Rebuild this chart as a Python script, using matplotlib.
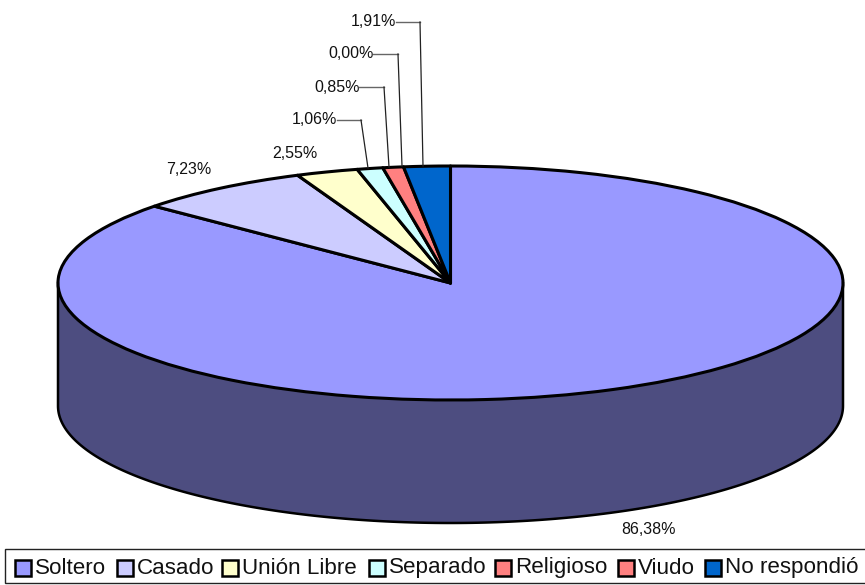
import numpy as np
import matplotlib
matplotlib.use("Agg")
import matplotlib.pyplot as plt
from matplotlib.patches import Wedge, Polygon, Rectangle
from matplotlib.transforms import Affine2D

plt.rcParams['font.family'] = ['Liberation Sans', 'DejaVu Sans']

categories = ["Soltero", "Casado", "Unión Libre", "Separado", "Religioso", "Viudo", "No respondió"]
values = [86.38, 7.23, 2.55, 1.06, 0.85, 0.00, 1.91]
value_labels = ["86,38%", "7,23%", "2,55%", "1,06%", "0,85%", "0,00%", "1,91%"]
colors = ["#9999FF", "#CCCCFF", "#FFFFCC", "#CCFFFF", "#FF8080", "#FF8080", "#0066CC"]
side_color = "#4D4D80"

CX, CY, A, B, DEPTH = 450.5, 283, 392.5, 117, 123

fig = plt.figure(figsize=(8.65, 5.85), dpi=100, facecolor="white")
ax = fig.add_axes([0, 0, 1, 1])
ax.set_xlim(0, 865)
ax.set_ylim(585, 0)
ax.axis("off")

# side wall
t = np.linspace(0, np.pi, 200)
xs = CX + A * np.cos(t)
ys = CY + DEPTH + B * np.sin(t)
wall = np.column_stack([np.r_[CX + A, xs, CX - A], np.r_[CY, ys, CY]])
ax.add_patch(Polygon(wall, closed=True, fc=side_color, ec="black", lw=1.8, zorder=1))

# top face: y axis points down, so angles run clockwise on screen
ell = Affine2D().scale(A, B).translate(CX, CY) + ax.transData
total = sum(values)
start = -90.0
for v, c in zip(values, colors):
    sweep = 360 * v / total
    if v > 0:
        ax.add_patch(Wedge((0, 0), 1, start, start + sweep, fc=c, ec="black",
                           lw=2.2, transform=ell, zorder=2, joinstyle="round"))
    start += sweep

# labels
fs = 11.5
ax.text(648, 529, value_labels[0], ha="center", va="center", fontsize=fs, color="#111111")
ax.text(189, 169, value_labels[1], ha="center", va="center", fontsize=fs, color="#111111")
ax.text(295, 153, value_labels[2], ha="center", va="center", fontsize=fs, color="#111111")

leaders = {3: [(337, 120), (361, 120), (368, 168)],
           4: [(359, 87), (384, 87), (389, 167)],
           5: [(373, 54), (398, 54), (402, 166)],
           6: [(396, 22), (420, 22), (423, 166)]}
for i, p in leaders.items():
    ax.plot([p[0][0], p[1][0]], [p[0][1], p[1][1]], color="#666666", lw=1.0, zorder=3)
    ax.plot([p[1][0], p[2][0]], [p[1][1], p[2][1]], color="#222222", lw=0.9, zorder=3)
    ax.text(p[0][0] + 0.5, p[0][1], value_labels[i], ha="right", va="center", fontsize=fs, color="#111111")

# legend
ax.add_patch(Rectangle((4.5, 548.5), 870, 34, fc="white", ec="#222222", lw=1.0, zorder=4))
squares = [15, 117, 222, 369, 495, 618, 705]
for c, name, x in zip(colors, categories, squares):
    ax.add_patch(Rectangle((x, 560), 16, 16, fc=c, ec="black", lw=1.8, zorder=5))
    ax.text(x + 20, 568, name, ha="left", va="center", fontsize=16.1, color="#111111", zorder=5)

fig.savefig("out.png", dpi=100, facecolor="white")
